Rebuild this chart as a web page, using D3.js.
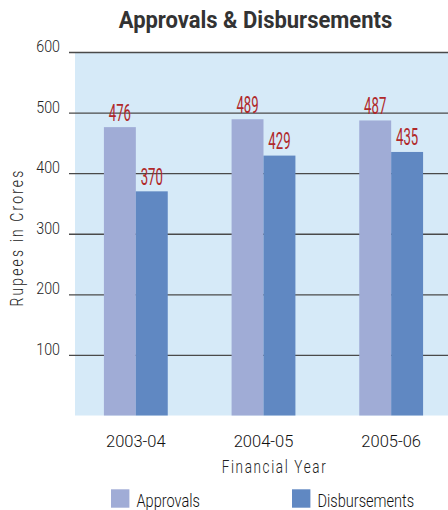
<!DOCTYPE html>
<html>
<head>
<meta charset="utf-8">
<script src="https://cdn.jsdelivr.net/npm/d3@7/dist/d3.min.js"></script>
<style>
  html, body { margin: 0; padding: 0; background: #fff; }
  svg { display: block; }
  text { font-family: Roboto, "Liberation Sans", sans-serif; }
</style>
</head>
<body>
<svg id="chart" width="448" height="510"></svg>
<script>
// Approvals and disbursements by financial year (Rupees in Crores)
const years = ["2003-04", "2004-05", "2005-06"];
const approvals = [476, 489, 487];
const disbursements = [370, 429, 435];
const yTicks = [100, 200, 300, 400, 500, 600];
const seriesNames = ["Approvals", "Disbursements"];
const seriesColors = ["#a0acd6", "#6088c2"];

const svg = d3.select("#chart");
const W = 448;
const plot = { left: 75, right: 448, top: 52, bottom: 415.5 };

// Horizontally condensed text: scale the glyphs, keep the anchor point at x
function condense(sel, s, x) {
  sel.attr("transform", `scale(${s},1)`).attr("x", x / s);
}

const y = d3.scaleLinear().domain([0, 600]).range([plot.bottom, plot.top]);
const x = d3.scaleBand().domain(years).range([72, 455]).paddingInner(0.5).paddingOuter(0.25);
const xs = d3.scaleBand().domain(seriesNames).range([0, x.bandwidth()]);

// Title
svg.append("text")
  .attr("y", 28)
  .attr("text-anchor", "middle")
  .attr("font-weight", "bold")
  .attr("font-size", 23.4)
  .attr("fill", "#333")
  .text("Approvals & Disbursements")
  .call(condense, 0.94, 255.5);

// Plot background
svg.append("rect")
  .attr("x", plot.left).attr("y", plot.top)
  .attr("width", plot.right - plot.left)
  .attr("height", plot.bottom - plot.top)
  .attr("fill", "#d6eaf8");

// Gridlines with labels
const yAxis = d3.axisLeft(y).tickValues(yTicks).tickSize(-(W - 69)).tickFormat(d3.format("d"));
const gy = svg.append("g").attr("transform", "translate(69,0)").call(yAxis);
gy.select(".domain").remove();
gy.selectAll(".tick line").attr("stroke", "#4a4a4a").attr("stroke-width", 1.3);
gy.selectAll(".tick text")
  .attr("font-size", 16.2)
  .attr("font-weight", 300)
  .attr("fill", "#222")
  .attr("dy", "-0.5")
  .each(function () { d3.select(this).call(condense, 0.88, -9); });

// Bars
const rows = years.map((yr, i) => [
  { s: seriesNames[0], v: approvals[i], c: seriesColors[0] },
  { s: seriesNames[1], v: disbursements[i], c: seriesColors[1] }
]);

const groups = svg.append("g").selectAll("g")
  .data(years)
  .join("g")
  .attr("transform", d => `translate(${x(d)},0)`);

groups.selectAll("rect")
  .data((d, i) => rows[i])
  .join("rect")
  .attr("x", d => xs(d.s))
  .attr("y", d => y(d.v))
  .attr("width", xs.bandwidth())
  .attr("height", d => y(0) - y(d.v))
  .attr("fill", d => d.c);

groups.selectAll("text.val")
  .data((d, i) => rows[i])
  .join("text")
  .attr("class", "val")
  .attr("y", d => y(d.v) - 6.5)
  .attr("text-anchor", "middle")
  .attr("font-size", 23.5)
  .attr("fill", "#b0282a")
  .text(d => d.v)
  .each(function (d) {
    d3.select(this).call(condense, 0.56, xs(d.s) + xs.bandwidth() / 2);
  });

// X axis labels
const xAxis = d3.axisBottom(x).tickSize(0).tickPadding(0);
const gx = svg.append("g").attr("transform", `translate(0,${plot.bottom})`).call(xAxis);
gx.select(".domain").remove();
gx.selectAll(".tick text")
  .attr("font-size", 16.5)
  .attr("font-weight", 300)
  .attr("fill", "#111")
  .attr("dy", null)
  .attr("y", 31);

// Axis titles
svg.append("text")
  .attr("y", 472.7)
  .attr("text-anchor", "middle")
  .attr("font-size", 18)
  .attr("font-weight", 300)
  .attr("letter-spacing", "2.2")
  .attr("fill", "#222")
  .text("Financial Year")
  .call(condense, 0.75, 274.5);

svg.append("g")
  .attr("transform", "translate(23,237.5) rotate(-90)")
  .append("text")
  .attr("y", 0)
  .attr("text-anchor", "middle")
  .attr("font-size", 18.5)
  .attr("font-weight", 300)
  .attr("letter-spacing", "2.9")
  .attr("fill", "#222")
  .text("Rupees in Crores")
  .call(condense, 0.75, 0);

// Legend
const legendX = [111, 292];
const legend = svg.append("g").selectAll("g")
  .data(seriesNames)
  .join("g")
  .attr("transform", (d, i) => `translate(${legendX[i]},489.3)`);
legend.append("rect")
  .attr("width", 18.4).attr("height", 18.4)
  .attr("fill", (d, i) => seriesColors[i]);
legend.append("text")
  .attr("y", 17.4)
  .attr("font-size", 18.7)
  .attr("font-weight", 300)
  .attr("fill", "#111")
  .text(d => d)
  .each(function () { d3.select(this).call(condense, 0.78, 25.5); });
</script>
</body>
</html>
